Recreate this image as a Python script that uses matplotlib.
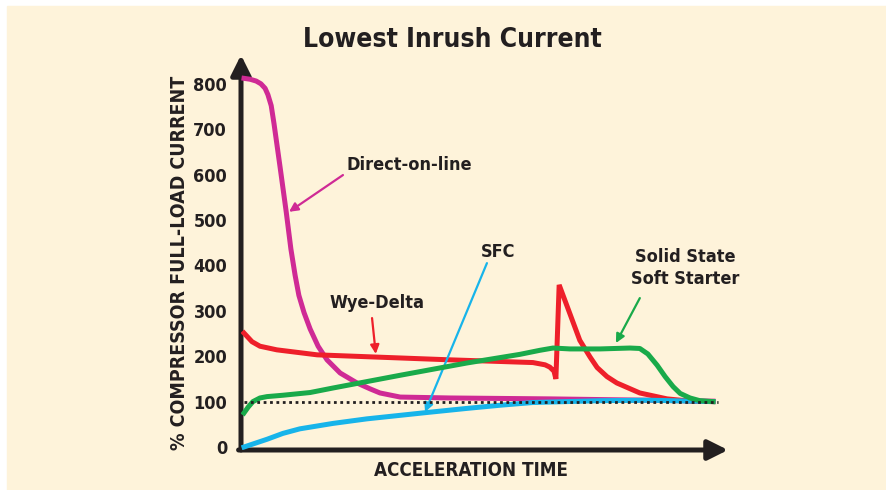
import matplotlib
matplotlib.use('Agg')
import matplotlib.pyplot as plt
from matplotlib.patches import Rectangle

plt.rcParams['font.family'] = ['DejaVu Sans']
plt.rcParams['font.stretch'] = 'condensed'
plt.rcParams['font.weight'] = 'bold'

BG = '#FEF3DA'
INK = '#231F20'
MAGENTA = '#CF2A95'
RED = '#EE1F2A'
GREEN = '#19AA4A'
BLUE = '#17B4EA'

# acceleration time (0-100 arbitrary units) and % full-load current
dol_x = [0, 1.3, 2.6, 3.6, 4.5, 5.1, 5.8, 6.4, 7.7, 9.0, 10.0, 10.9, 11.7, 12.8,
         14.1, 15.8, 17.7, 20.5, 24.1, 26.9, 29.0, 33.3, 43.9, 65.2, 86.6, 100]
dol_y = [812, 810, 806, 800, 790, 776, 752, 712, 616, 518, 436, 378, 334, 296,
         260, 222, 192, 163, 141, 128, 119, 110, 108, 106, 103, 101]

wye_x = [0, 1.7, 3.4, 7.0, 15.6, 28.4, 43.9, 61.6, 64.2, 65.2, 66.1, 66.5, 67.2,
         71.6, 73.8, 75.3, 77.4, 79.5, 84.4, 90.2, 95.1, 100]
wye_y = [251, 232, 222, 214, 203, 198, 192, 186, 181, 176, 167, 150, 357,
         235, 198, 175, 155, 141, 119, 106, 101, 100]

sss_x = [0, 0.9, 1.9, 3.4, 4.9, 8.3, 14.1, 19.0, 33.3, 47.5, 58.8, 63.1, 65.9,
         69.5, 75.9, 82.3, 84.4, 86.1, 88.1, 89.8, 91.5, 93.0, 95.1, 97.2, 100]
sss_y = [75, 88, 100, 108, 111, 114, 120, 130, 158, 185, 204, 213, 218,
         216, 216, 218, 217, 205, 180, 155, 133, 118, 108, 102, 100]

sfc_x = [0, 2.3, 4.9, 8.3, 11.9, 19.0, 26.2, 39.0, 47.5, 54.6, 61.6, 75.9, 86.6, 100]
sfc_y = [0, 8, 17, 30, 40, 52, 62, 76, 85, 92, 98, 102, 103, 100]

y_ticks = [0, 100, 200, 300, 400, 500, 600, 700, 800]

fig = plt.figure(figsize=(8.87, 4.90), dpi=100, facecolor='white')
fig.patches.append(Rectangle((7 / 887, 0), 880 / 887, 484 / 490,
                             transform=fig.transFigure, color=BG, zorder=-10))

ax = fig.add_axes([241 / 887, 40 / 490, 487 / 887, 395 / 490])
ax.set_facecolor('none')
ax.set_xlim(-0.64, 103.2)
ax.set_ylim(-6.6, 863.4)
for s in ax.spines.values():
    s.set_visible(False)

ax.set_xticks([])
ax.set_yticks(y_ticks)
ax.set_yticklabels([str(v) for v in y_ticks], fontsize=13, color=INK, fontweight='bold')
ax.tick_params(axis='y', length=0, pad=10)

# axes with arrow heads
arrow = dict(arrowstyle='-|>', lw=3.6, color=INK, mutation_scale=30, shrinkA=0, shrinkB=0)
ax.annotate('', xy=(0, 1), xytext=(0, 0), xycoords='axes fraction', arrowprops=arrow)
ax.annotate('', xy=(1, 0), xytext=(-0.005, 0), xycoords='axes fraction', arrowprops=arrow)

lw = 3.6
ax.plot([0, 101], [100, 100], color=INK, lw=2, linestyle=(0, (1, 1.3)), zorder=6)
ax.plot(sfc_x, sfc_y, color=BLUE, lw=lw, solid_joinstyle='round', zorder=4)
ax.plot(dol_x, dol_y, color=MAGENTA, lw=lw, solid_joinstyle='round', zorder=3)
ax.plot(wye_x, wye_y, color=RED, lw=lw, solid_joinstyle='miter', zorder=3)
ax.plot(sss_x, sss_y, color=GREEN, lw=lw, solid_joinstyle='round', zorder=5)

def label(txt, pos, start, tip, color):
    ax.text(pos[0], pos[1], txt, ha='center', va='center', fontsize=13,
            color=INK, fontweight='bold', linespacing=1.3)
    ax.annotate('', xy=tip, xytext=start,
                arrowprops=dict(arrowstyle='-|>', lw=1.6, color=color,
                                mutation_scale=13, shrinkA=0, shrinkB=0))

label('Direct-on-line', (35.2, 621), (21.1, 599), (9.6, 518), MAGENTA)
label('Wye-Delta', (28.4, 317), (27.3, 284), (28.1, 205), RED)
label('SFC', (54.2, 430), (51.8, 405), (38.6, 77), BLUE)
label('Solid State\nSoft Starter', (94.0, 394), (84.4, 328), (79.3, 229), GREEN)

fig.text(452 / 887, 1 - 40 / 490, 'Lowest Inrush Current', ha='center', va='center',
         fontsize=19, fontweight='bold', color=INK)
fig.text(471 / 887, 1 - 470 / 490, 'ACCELERATION TIME', ha='center', va='center',
         fontsize=13.5, fontweight='bold', color=INK)
fig.text(180 / 887, 1 - 263 / 490, '% COMPRESSOR FULL-LOAD CURRENT', ha='center',
         va='center', rotation=90, fontsize=14, fontweight='bold', color=INK)

fig.savefig('out.png', dpi=100, facecolor=fig.get_facecolor())
